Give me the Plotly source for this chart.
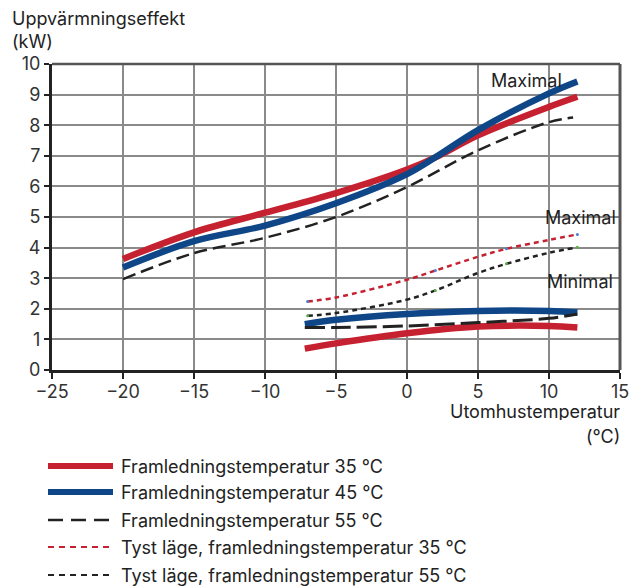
import plotly.graph_objects as go

# ---- data ----
x_main = [-20, -15, -10, -5, 0, 2, 5, 10, 12]
red35 = [3.63, 4.5, 5.14, 5.78, 6.55, 6.95, 7.67, 8.6, 8.93]
blue45 = [3.35, 4.21, 4.72, 5.45, 6.4, 6.95, 7.84, 9.04, 9.43]
x_black = [-20, -15, -10, -5, 0, 5, 10, 11.7]
black55 = [2.97, 3.82, 4.32, 5.0, 5.98, 7.18, 8.1, 8.25]

x_low = [-7.2, -5, 0, 5, 10, 12]
red35_min = [0.7, 0.87, 1.2, 1.42, 1.44, 1.39]
blue45_min = [1.5, 1.64, 1.83, 1.93, 1.93, 1.88]
black55_min = [1.39, 1.39, 1.44, 1.55, 1.69, 1.83]

x_tyst = [-7, -5, 0, 2, 5, 7, 10, 12]
tyst35 = [2.24, 2.37, 2.95, 3.25, 3.7, 3.96, 4.25, 4.43]
tyst55 = [1.77, 1.86, 2.3, 2.6, 3.17, 3.47, 3.83, 4.01]
x_pts = [-7, 2, 7, 12]
tyst35_pts = [2.24, 3.25, 3.96, 4.43]
tyst55_pts = [1.77, 2.6, 3.47, 4.01]

legend_labels = [
    "Framledningstemperatur 35 °C",
    "Framledningstemperatur 45 °C",
    "Framledningstemperatur 55 °C",
    "Tyst läge, framledningstemperatur 35 °C",
    "Tyst läge, framledningstemperatur 55 °C",
]

RED = "#C62130"
BLUE = "#0F4687"
BLACK = "#222222"
FONT = "Inter"
FS = 18

fig = go.Figure()

def line(x, y, color, width, dash="solid"):
    fig.add_trace(go.Scatter(x=x, y=y, mode="lines", line=dict(color=color, width=width, dash=dash, shape="spline"),
                             showlegend=False, hoverinfo="skip"))

line(x_main, red35, RED, 6.5)
line(x_main, blue45, BLUE, 6.5)
line(x_black, black55, BLACK, 2.5, "13px,6px")
line(x_low, red35_min, RED, 6.5)
line(x_low, blue45_min, BLUE, 6.5)
line(x_low, black55_min, BLACK, 3, "20px,6px")
line(x_tyst, tyst35, RED, 2.5, "5px,4px")
line(x_tyst, tyst55, BLACK, 2.5, "5px,4px")
fig.add_trace(go.Scatter(x=x_pts, y=tyst35_pts, mode="markers", marker=dict(color="#4a7fd0", size=3),
                         showlegend=False, hoverinfo="skip"))
fig.add_trace(go.Scatter(x=x_pts, y=tyst55_pts, mode="markers", marker=dict(color="#5fb04a", size=3),
                         showlegend=False, hoverinfo="skip"))

# page offset (browser body margin)
OFF = 8
W, H = 640 - OFF, 586 - OFF
# plot area in page pixels: x 52..620, y 64..370
PL, PR, PT, PB = 52, 620, 64, 370
L, T = PL - OFF, PT - OFF
R, B = W - (PR - OFF), H - (PB - OFF)
pw, ph = PR - PL, PB - PT

def px(xp):
    return (xp - PL) / pw

def py(yp):
    return (PB - yp) / ph

shapes = []
shapes.append(dict(type="line", xref="paper", yref="paper", x0=0, x1=1, y0=1, y1=1, line=dict(color="#555", width=2.5)))
shapes.append(dict(type="line", xref="paper", yref="paper", x0=1, x1=1, y0=0, y1=1, line=dict(color="#555", width=3)))

annotations = []
leg_styles = [
    (RED, 6, "solid"),
    (BLUE, 6, "solid"),
    (BLACK, 2.5, "15px,8px"),
    (RED, 2, "6px,5px"),
    (BLACK, 2, "6px,5px"),
]
leg_y = [466, 492, 520, 547, 575]
for (c, w, d), yy, lab in zip(leg_styles, leg_y, legend_labels):
    shapes.append(dict(type="line", xref="paper", yref="paper", x0=px(48), x1=px(113), y0=py(yy), y1=py(yy),
                       line=dict(color=c, width=w, dash=d)))
    annotations.append(dict(xref="paper", yref="paper", x=px(119), y=py(yy), text=lab, showarrow=False,
                            xanchor="left", yanchor="middle", font=dict(size=FS, color=BLACK, family=FONT)))

annotations += [
    dict(xref="paper", yref="paper", x=px(10), y=py(18.5), text="Uppvärmningseffekt", showarrow=False,
         xanchor="left", yanchor="middle", height=21, font=dict(size=FS, color=BLACK, family=FONT)),
    dict(xref="paper", yref="paper", x=px(10), y=py(41), text="(kW)", showarrow=False,
         xanchor="left", yanchor="middle", font=dict(size=FS, color=BLACK, family=FONT)),
    dict(xref="paper", yref="paper", x=px(622), y=py(411), text="Utomhustemperatur", showarrow=False,
         xanchor="right", yanchor="middle", height=18, font=dict(size=FS, color=BLACK, family=FONT)),
    dict(xref="paper", yref="paper", x=px(622), y=py(436), text="(°C)", showarrow=False,
         xanchor="right", yanchor="middle", font=dict(size=FS, color=BLACK, family=FONT)),
    dict(x=8.45, y=9.45, text="Maximal", showarrow=False, xanchor="center", yanchor="middle",
         font=dict(size=FS, color=BLACK, family=FONT)),
    dict(x=12.25, y=5.0, text="Maximal", showarrow=False, xanchor="center", yanchor="middle",
         font=dict(size=FS, color=BLACK, family=FONT)),
    dict(x=12.15, y=2.9, text="Minimal", showarrow=False, xanchor="center", yanchor="middle",
         font=dict(size=FS, color=BLACK, family=FONT)),
]

fig.update_layout(
    width=W, height=H,
    margin=dict(l=L, r=R, t=T, b=B, pad=0),
    plot_bgcolor="white", paper_bgcolor="white",
    shapes=shapes, annotations=annotations,
    font=dict(family=FONT, color=BLACK, size=FS),
    xaxis=dict(range=[-25, 15], dtick=5, tick0=-25, showgrid=True, gridcolor="#8a8a8a", gridwidth=1.5,
               showline=True, linecolor=BLACK, linewidth=3, ticks="outside", ticklen=6, tickcolor=BLACK,
               tickwidth=1.5, zeroline=False, ticklabelstandoff=-3,
               tickfont=dict(size=FS, family=FONT, color="#333"), fixedrange=True),
    yaxis=dict(range=[0, 10], dtick=1, showgrid=True, gridcolor="#8a8a8a", gridwidth=1.5,
               showline=True, linecolor=BLACK, linewidth=3, ticks="outside", ticklen=5, tickcolor=BLACK,
               tickwidth=1.5, zeroline=False, tickfont=dict(size=FS, family=FONT, color="#333"), fixedrange=True),
)

fig.write_html("out.html")
